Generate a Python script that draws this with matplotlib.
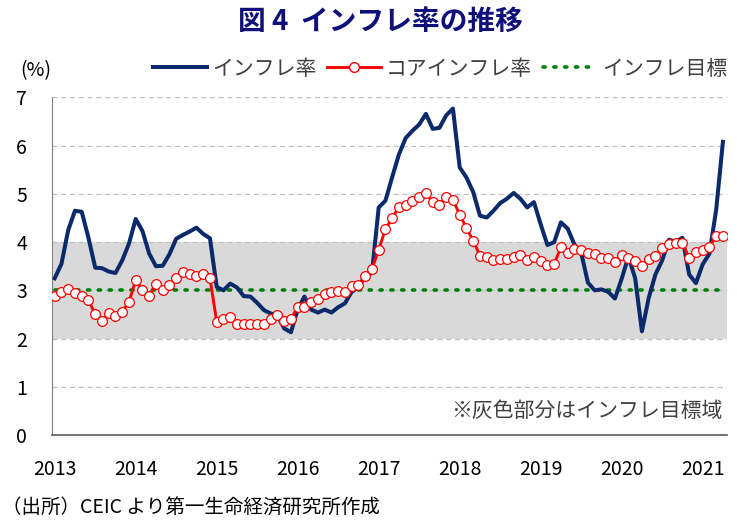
import matplotlib
matplotlib.use('Agg')
import matplotlib.pyplot as plt
from matplotlib.lines import Line2D

plt.rcParams['font.family'] = ['Noto Sans CJK JP', 'DejaVu Sans']

# 月次データ 2013年1月～2021年4月 (%)
years = ['2013', '2014', '2015', '2016', '2017', '2018', '2019', '2020', '2021']

headline = [
    3.25, 3.55, 4.25, 4.65, 4.63, 4.09, 3.47, 3.46, 3.39, 3.36, 3.62, 3.97,
    4.48, 4.23, 3.76, 3.50, 3.51, 3.75, 4.07, 4.15, 4.22, 4.30, 4.17, 4.08,
    3.07, 3.00, 3.14, 3.06, 2.88, 2.87, 2.74, 2.59, 2.52, 2.48, 2.21, 2.13,
    2.61, 2.87, 2.60, 2.54, 2.60, 2.54, 2.65, 2.73, 2.97, 3.06, 3.31, 3.36,
    4.72, 4.86, 5.35, 5.82, 6.16, 6.31, 6.44, 6.66, 6.35, 6.37, 6.63, 6.77,
    5.55, 5.34, 5.04, 4.55, 4.51, 4.65, 4.81, 4.90, 5.02, 4.90, 4.72, 4.83,
    4.37, 3.94, 4.00, 4.41, 4.28, 3.95, 3.78, 3.16, 3.00, 3.02, 2.97, 2.83,
    3.24, 3.70, 3.25, 2.15, 2.84, 3.33, 3.62, 4.05, 4.01, 4.09, 3.33, 3.15,
    3.54, 3.76, 4.67, 6.08,
]

core = [
    2.89, 2.97, 3.02, 2.95, 2.88, 2.80, 2.50, 2.37, 2.52, 2.47, 2.56, 2.76,
    3.21, 3.01, 2.89, 3.13, 3.01, 3.11, 3.25, 3.39, 3.34, 3.30, 3.33, 3.25,
    2.35, 2.40, 2.45, 2.30, 2.31, 2.31, 2.30, 2.30, 2.40, 2.48, 2.37, 2.41,
    2.65, 2.66, 2.76, 2.82, 2.92, 2.97, 2.98, 2.97, 3.08, 3.11, 3.30, 3.44,
    3.84, 4.27, 4.50, 4.73, 4.78, 4.85, 4.94, 5.01, 4.83, 4.78, 4.93, 4.88,
    4.57, 4.29, 4.03, 3.72, 3.70, 3.62, 3.64, 3.65, 3.70, 3.74, 3.63, 3.69,
    3.60, 3.52, 3.55, 3.89, 3.77, 3.86, 3.84, 3.77, 3.75, 3.68, 3.67, 3.58,
    3.74, 3.67, 3.60, 3.51, 3.65, 3.71, 3.87, 3.96, 3.98, 3.98, 3.67, 3.80,
    3.84, 3.90, 4.13, 4.13,
]

target = 3.0
band_low, band_high = 2.0, 4.0

x = list(range(len(headline)))

fig = plt.figure(figsize=(7.56, 5.27), dpi=100)
ax = fig.add_axes([0.0688, 0.1746, 0.8928, 0.6404])

# 目標域(灰色)とグリッド
ax.axhspan(band_low, band_high, color='#d9d9d9', lw=0, zorder=0)
for v in range(1, 8):
    ax.axhline(v, color='#bfbfbf', lw=0.9, ls=(0, (4, 3)), zorder=1)

ax.plot([x[0], x[-1]], [target, target], color='#00800a', lw=2.6,
        ls=(0, (0.6, 2.4)), dash_capstyle='round', zorder=2)
ax.plot(x, headline, color='#0b2a6b', lw=2.9, solid_joinstyle='round', zorder=3)
ax.plot(x, core, color='#ff0000', lw=2.1, marker='o', ms=7,
        mfc='white', mec='#ff0000', mew=0.9, zorder=4)

ax.set_xlim(-0.4, 99.6)
ax.set_ylim(0, 7)
ax.set_yticks(range(0, 8))
ax.tick_params(axis='y', length=0, pad=18, labelsize=14, colors='#000000')

ax.set_xticks(range(0, 97, 12))
ax.set_xticklabels(years)
ax.set_xticks(range(12, 97, 12), minor=True)
ax.tick_params(axis='x', which='major', length=0, pad=17, labelsize=14)
ax.tick_params(axis='x', which='minor', length=6, width=1, color='#595959',
               direction='out')

for s in ['top', 'right']:
    ax.spines[s].set_visible(False)
ax.spines['left'].set_color('#808080')
ax.spines['bottom'].set_color('#595959')
ax.spines['bottom'].set_linewidth(1.2)

ax.text(99.0, 0.5, '※灰色部分はインフレ目標域', ha='right', va='center',
        fontsize=15, color='#404040')

fig.text(0.503, 0.958, '図 4  インフレ率の推移', ha='center', va='center',
         fontsize=20, fontweight='bold', color='#10107a')
fig.text(0.047, 0.866, '(%)', ha='center', va='center', fontsize=14)

handles = [
    Line2D([], [], color='#0b2a6b', lw=2.9),
    Line2D([], [], color='#ff0000', lw=2.1, marker='o', ms=7, mfc='white',
           mec='#ff0000'),
    Line2D([], [], color='#00800a', lw=2.6, ls=(0, (0.6, 2.4)),
           dash_capstyle='round'),
]
labels = ['インフレ率', 'コアインフレ率', 'インフレ目標']
fig.legend(handles, labels, loc='center', bbox_to_anchor=(0.582, 0.87),
           ncol=3, frameon=False, fontsize=15, handlelength=2.6,
           handletextpad=0.25, columnspacing=0.5, labelcolor='#404040')

fig.text(0.002, 0.035, '（出所）CEIC より第一生命経済研究所作成', ha='left',
         va='center', fontsize=14)

fig.savefig('out.png', dpi=100)
